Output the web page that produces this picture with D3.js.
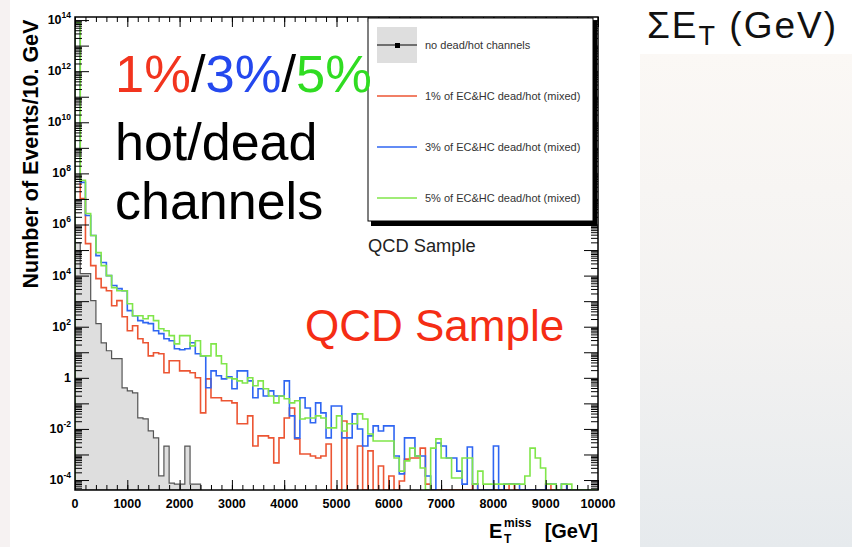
<!DOCTYPE html>
<html>
<head>
<meta charset="utf-8">
<script src="https://cdn.jsdelivr.net/npm/d3@7"></script>
<style>
  body { margin: 0; background: #fff; }
  svg { display: block; font-family: "Liberation Sans", Arial, Helvetica, sans-serif; }
</style>
</head>
<body>
<div id="chart"></div>
<script>
// bins of 100 GeV from 0 to 10000 GeV
const binWidth = 100;

// log10(events per bin), null = empty bin
const noDeadHot = [5.29, 4.08, 4.08, 3.02, 2.12, 1.37, 1.06, 0.75, 0.75, -0.39,
  -0.51, -0.59, -1.57, -1.61, -2.08, -2.35, -3.84, -2.67, -4.12, -4.16,
  -4.16, -2.67, -4.16, -4.16];

const mixed1 = [13.9, 7.02, 5.25, 4.39, 3.88, 3.53, 3.41, 2.82, 3.02, 2.39,
  1.84, 2.04, 1.53, 1.37, 0.86, 0.98, 0.94, 0.2, 0.67, 0.67,
  0.27, 0.27, 0.2, 0.0, -1.37, -0.04, -0.78, -0.78, -0.9, -0.9,
  -0.98, -1.8, -1.8, -1.49, -2.67, -2.27, -2.27, -2.35, -3.33, -2.35,
  -1.57, -1.18, -2.39, -2.98, -2.98, -3.06, -3.14, -3.06, -2.59, null,
  null, -1.69, null, null, -2.67, null, -2.86, null, -3.45, null,
  -3.84, null, -4.04, -3.18, -3.14, -3.14, -2.75, -4.16, null, null,
  null, null, null, null, null, null, -4.16, null, null, null,
  null, null, null, -4.16, null, null, null, null, null, null,
  -4.16, null, null, null, null, null, null, null, null, null];

const mixed3 = [13.9, 7.65, 6.35, 5.57, 4.78, 4.51, 4.0, 3.61, 3.49, 3.41,
  2.63, 2.43, 2.24, 2.16, 2.12, 1.84, 1.73, 1.53, 1.45, 1.14,
  1.1, 1.14, 1.37, 0.94, 0.86, -0.39, 0.27, 0.08, -0.04, 0.04,
  -0.43, 0.27, 0.27, -0.12, -0.78, -0.43, -0.71, -0.51, -0.71, -0.71,
  -0.12, -1.49, -2.35, -0.78, -1.18, -1.76, -0.98, -1.37, -2.35, -1.1,
  -1.1, -2.35, -2.35, -1.41, -2.0, -2.67, -2.27, -1.88, -2.08, -1.88,
  -1.88, -3.06, -3.76, -2.35, -2.35, -3.06, -3.06, -3.84, null, -2.55,
  -2.67, -3.14, -3.14, -3.65, -4.16, -2.71, -4.16, null, null, null,
  -2.67, null, -4.16, -4.16, -4.16, null, null, null, null, null,
  -4.16, -4.16, null, -4.16, null, null, null, null, null, null];

const mixed5 = [13.9, 7.73, 6.43, 5.57, 4.9, 4.39, 4.0, 3.53, 3.41, 3.41,
  2.9, 2.43, 2.43, 2.31, 2.43, 2.24, 1.92, 1.84, 1.65, 1.33,
  1.65, 1.65, 1.25, 1.45, 0.86, 0.86, 1.33, 0.86, 0.55, 0.0,
  -0.04, -0.12, -0.2, 0.0, -0.31, -0.12, -0.43, -0.71, -0.98, -0.71,
  -0.82, -0.98, -0.9, -1.61, -1.57, -1.57, -1.49, -1.57, -1.96, -1.96,
  -1.49, -2.08, -1.8, -1.8, -1.41, -1.61, -2.2, -2.47, -2.47, -2.47,
  -2.47, -3.14, -3.65, -3.25, -2.75, -3.06, -3.53, null, -2.75, -2.39,
  -3.14, -3.14, -3.92, -3.92, -3.14, -3.14, -4.16, -3.65, -4.16, -4.16,
  -4.16, -4.16, -4.16, -4.16, -4.16, -4.16, -3.84, -2.75, -3.14, -3.53,
  -4.16, -4.16, null, -4.16, -4.16, null, null, null, null, null];

const xTickLabels = [0, 1000, 2000, 3000, 4000, 5000, 6000, 7000, 8000, 9000, 10000];
const yDecades = [-4, -3, -2, -1, 0, 1, 2, 3, 4, 5, 6, 7, 8, 9, 10, 11, 12, 13, 14];
const yLabelExps = [-4, -2, 0, 2, 4, 6, 8, 10, 12, 14];
const legendLabels = ["no dead/hot channels", "1% of EC&HC dead/hot (mixed)",
  "3% of EC&HC dead/hot (mixed)", "5% of EC&HC dead/hot (mixed)"];

const width = 852, height = 547;
const frame = { left: 75, right: 598, top: 17, bottom: 490 };

const svg = d3.select("#chart").append("svg")
  .attr("width", width).attr("height", height);

/* slide background */
const defs = svg.append("defs");
const grad = defs.append("linearGradient").attr("id", "panel")
  .attr("x1", 0).attr("y1", 0).attr("x2", 0).attr("y2", 1);
grad.append("stop").attr("offset", "0%").attr("stop-color", "#fbf8f5");
grad.append("stop").attr("offset", "55%").attr("stop-color", "#f3f2f1");
grad.append("stop").attr("offset", "100%").attr("stop-color", "#e6eaed");
defs.append("clipPath").attr("id", "plotclip").append("rect")
  .attr("x", frame.left).attr("y", frame.top)
  .attr("width", frame.right - frame.left).attr("height", frame.bottom - frame.top);

svg.append("rect").attr("width", width).attr("height", height).attr("fill", "#fff");
svg.append("rect").attr("width", 10).attr("height", height).attr("fill", "#f6f2f2");
svg.append("rect").attr("x", 640).attr("y", 54).attr("width", 212).attr("height", 493)
  .attr("fill", "url(#panel)");

/* scales */
let x = d3.scaleLinear().domain([0, 10000]).range([frame.left, frame.right]);
let y = d3.scaleLog().domain([Math.pow(10, -4.39), Math.pow(10, 14.12)])
  .range([frame.bottom, frame.top]);

function stepPath(vals) {
  let base = frame.bottom;
  let p = `M${x(0)},${base}`;
  vals.forEach((v, i) => {
    let yy = v == null ? base : y(Math.pow(10, v));
    p += `L${x(i * binWidth)},${yy}L${x((i + 1) * binWidth)},${yy}`;
  });
  return p + `L${x(vals.length * binWidth)},${base}`;
}

/* histograms */
let hists = svg.append("g").attr("clip-path", "url(#plotclip)");
hists.append("path").attr("d", stepPath(noDeadHot) + "Z")
  .attr("fill", "#dedede").attr("stroke", "#555").attr("stroke-width", 1.2);

let series = [
  { vals: mixed1, color: "#ec5533" },
  { vals: mixed3, color: "#2f66f2" },
  { vals: mixed5, color: "#80e64a" }
];
hists.selectAll(".hist").data(series).enter().append("path")
  .attr("class", "hist")
  .attr("d", d => stepPath(d.vals))
  .attr("fill", "none").attr("stroke", d => d.color).attr("stroke-width", 1.6);

/* axes: ROOT style ticks pointing into the frame */
let minorY = [];
for (let k = -5; k <= 14; k++)
  for (let m = 2; m <= 9; m++) {
    let v = m * Math.pow(10, k);
    if (v > y.domain()[0] && v < y.domain()[1]) minorY.push(v);
  }
let majorY = yDecades.map(e => Math.pow(10, e));
let minorX = d3.range(0, 10001, 200);

function tickAxis(axis, tx, ty, size, values) {
  svg.append("g").attr("transform", `translate(${tx},${ty})`)
    .call(axis.tickValues(values).tickSize(size).tickSizeOuter(0).tickFormat(""))
    .call(g => g.select(".domain").remove())
    .selectAll("line").attr("stroke", "#000").attr("stroke-width", 1);
}
tickAxis(d3.axisRight(y), frame.left, 0, 7, minorY);
tickAxis(d3.axisRight(y), frame.left, 0, 14, majorY);
tickAxis(d3.axisLeft(y), frame.right, 0, 7, minorY);
tickAxis(d3.axisLeft(y), frame.right, 0, 14, majorY);
tickAxis(d3.axisTop(x), 0, frame.bottom, 5, minorX);
tickAxis(d3.axisTop(x), 0, frame.bottom, 10, xTickLabels);
tickAxis(d3.axisBottom(x), 0, frame.top, 5, minorX);
tickAxis(d3.axisBottom(x), 0, frame.top, 10, xTickLabels);

svg.append("rect").attr("x", frame.left).attr("y", frame.top)
  .attr("width", frame.right - frame.left).attr("height", frame.bottom - frame.top)
  .attr("fill", "none").attr("stroke", "#000").attr("stroke-width", 1.5);

/* tick labels */
svg.append("g").selectAll("text").data(xTickLabels).enter().append("text")
  .attr("x", d => x(d)).attr("y", 508)
  .attr("text-anchor", "middle").attr("font-size", 12.5).attr("font-weight", "bold")
  .text(d => d);

let yl = svg.append("g").selectAll("text").data(yLabelExps).enter().append("text")
  .attr("x", 71).attr("y", d => y(Math.pow(10, d)) + 4)
  .attr("text-anchor", "end").attr("font-size", 12.5).attr("font-weight", "bold");
yl.each(function (e) {
  let t = d3.select(this);
  if (e === 0) { t.text("1"); return; }
  t.append("tspan").text("10");
  t.append("tspan").attr("dy", -6).attr("font-size", 8.5).text(e);
});

/* axis titles */
svg.append("text")
  .attr("transform", "translate(38,154) rotate(-90)")
  .attr("text-anchor", "middle").attr("font-size", 21.5).attr("font-weight", "bold")
  .text("Number of Events/10. GeV");

let xt = svg.append("g").attr("font-weight", "bold");
xt.append("text").attr("x", 598).attr("y", 538).attr("text-anchor", "end")
  .attr("font-size", 20).text("[GeV]");
xt.append("text").attr("x", 489).attr("y", 538).attr("font-size", 20).text("E");
xt.append("text").attr("x", 504).attr("y", 543).attr("font-size", 12).text("T");
xt.append("text").attr("x", 504).attr("y", 527).attr("font-size", 12).text("miss");

/* legend */
let lg = svg.append("g");
lg.append("rect").attr("x", 371).attr("y", 21).attr("width", 226).attr("height", 205).attr("fill", "#000");
lg.append("rect").attr("x", 368).attr("y", 18).attr("width", 225).attr("height", 203)
  .attr("fill", "#fff").attr("stroke", "#000").attr("stroke-width", 1);
let legendRows = [45, 96, 147, 198];
lg.append("rect").attr("x", 377).attr("y", 27).attr("width", 40).attr("height", 36).attr("fill", "#dedede");
lg.append("line").attr("x1", 377).attr("x2", 417).attr("y1", 45).attr("y2", 45)
  .attr("stroke", "#000").attr("stroke-width", 1);
lg.append("rect").attr("x", 395).attr("y", 43).attr("width", 5).attr("height", 5).attr("fill", "#000");
lg.selectAll(".lline").data(series).enter().append("line")
  .attr("x1", 377).attr("x2", 417)
  .attr("y1", (d, i) => legendRows[i + 1]).attr("y2", (d, i) => legendRows[i + 1])
  .attr("stroke", d => d.color).attr("stroke-width", 1.6);
lg.selectAll(".ltext").data(legendLabels).enter().append("text")
  .attr("x", 425).attr("y", (d, i) => legendRows[i] + 3.5)
  .attr("font-size", 11).attr("fill", "#333").text(d => d);

svg.append("text").attr("x", 368).attr("y", 252).attr("font-size", 18.3).attr("fill", "#222")
  .text("QCD Sample");

/* slide annotations */
let big = svg.append("text").attr("x", 115).attr("y", 92).attr("font-size", 52.5);
big.append("tspan").attr("fill", "#f2341e").text("1%");
big.append("tspan").attr("fill", "#000").text("/");
big.append("tspan").attr("fill", "#2448ee").text("3%");
big.append("tspan").attr("fill", "#000").text("/");
big.append("tspan").attr("fill", "#30dc22").text("5%");
svg.append("text").attr("x", 115).attr("y", 160).attr("font-size", 52).text("hot/dead");
svg.append("text").attr("x", 115).attr("y", 219).attr("font-size", 52).text("channels");

svg.append("text").attr("x", 305).attr("y", 341).attr("font-size", 44).attr("fill", "#f52d14")
  .text("QCD Sample");

let se = svg.append("text").attr("x", 647).attr("y", 38).attr("font-size", 37).attr("fill", "#111")
  .attr("letter-spacing", 2);
se.append("tspan").text("\u03a3E");
se.append("tspan").attr("dy", 7).attr("font-size", 27).text("T");
se.append("tspan").attr("dy", -7).text(" (GeV)");
</script>
</body>
</html>
